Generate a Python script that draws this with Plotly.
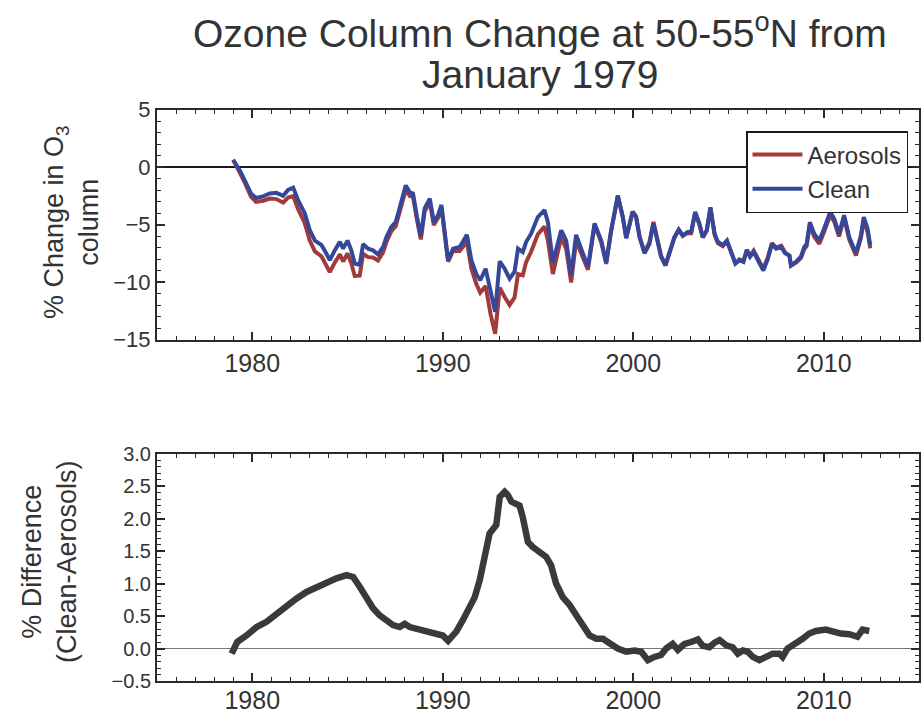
import plotly.graph_objects as go

# ---------------- data ----------------
years = [1979.0, 1979.35, 1979.6, 1979.93, 1980.2, 1980.57, 1980.92, 1981.27, 1981.62, 1981.88,
         1982.15, 1982.41, 1982.76, 1983.02, 1983.29, 1983.64, 1983.8, 1984.07, 1984.33, 1984.6,
         1984.77, 1985.0, 1985.2, 1985.38, 1985.64, 1985.82, 1986.08, 1986.34, 1986.6, 1986.87,
         1987.04, 1987.3, 1987.53, 1987.74, 1988.06, 1988.27, 1988.44, 1988.65, 1988.85, 1989.05,
         1989.32, 1989.53, 1989.75, 1989.93, 1990.1, 1990.28, 1990.54, 1990.89, 1991.27, 1991.5,
         1991.76, 1991.97, 1992.25, 1992.51, 1992.75, 1992.99, 1993.25, 1993.51, 1993.77, 1993.95,
         1994.2, 1994.38, 1994.64, 1994.99, 1995.34, 1995.52, 1995.78, 1996.22, 1996.48, 1996.74,
         1997.0, 1997.3, 1997.62, 1997.97, 1998.32, 1998.58, 1998.84, 1999.19, 1999.45, 1999.63,
         1999.97, 2000.15, 2000.33, 2000.59, 2000.85, 2001.06, 2001.29, 2001.46, 2001.69, 2001.9,
         2002.16, 2002.39, 2002.6, 2002.86, 2003.04, 2003.25, 2003.47, 2003.65, 2003.86, 2004.05,
         2004.27, 2004.44, 2004.7, 2004.92, 2005.13, 2005.36, 2005.57, 2005.78, 2005.96, 2006.13,
         2006.32, 2006.58, 2006.83, 2007.06, 2007.28, 2007.5, 2007.77, 2007.97, 2008.2, 2008.28,
         2008.54, 2008.8, 2008.98, 2009.1, 2009.27, 2009.5, 2009.77, 2010.02, 2010.34, 2010.55,
         2010.8, 2011.07, 2011.34, 2011.69, 2011.95, 2012.1, 2012.3, 2012.44]

clean = [0.6, -0.3, -1.15, -2.3, -2.7, -2.55, -2.3, -2.25, -2.5, -2.0,
         -1.8, -2.9, -4.05, -5.5, -6.4, -6.8, -7.25, -8.1, -7.25, -6.5,
         -7.1, -6.4, -7.25, -8.4, -8.5, -6.7, -7.1, -7.25, -7.6, -6.95,
         -6.1, -5.2, -4.8, -3.5, -1.6, -2.2, -2.3, -4.35, -6.0, -3.6,
         -2.75, -4.8, -4.2, -3.3, -5.8, -8.1, -7.1, -6.95, -5.9, -8.1,
         -9.3, -9.85, -8.85, -11.0, -12.6, -8.2, -8.85, -9.7, -9.1, -7.1,
         -7.4, -6.5, -5.8, -4.35, -3.75, -4.8, -8.3, -5.5, -6.4, -9.4,
         -5.9, -7.25, -8.7, -4.9, -6.4, -8.3, -5.5, -2.5, -4.35, -6.2,
         -3.9, -4.35, -6.1, -7.5, -6.7, -4.9, -6.7, -7.8, -8.55, -7.5,
         -6.1, -5.45, -5.95, -5.65, -5.65, -3.9, -4.9, -6.1, -5.5, -3.5,
         -5.8, -6.5, -6.8, -6.4, -7.25, -8.4, -8.1, -8.25, -7.25, -7.8,
         -7.4, -8.25, -9.0, -8.0, -6.7, -7.1, -6.95, -7.5, -7.7, -8.55,
         -8.25, -7.8, -6.95, -6.7, -4.8, -5.8, -6.4, -5.35, -3.9, -4.5,
         -5.8, -4.2, -6.1, -7.5, -5.95, -4.35, -5.35, -6.8]

aerosols = [0.65, -0.42, -1.33, -2.57, -3.03, -2.93, -2.74, -2.79, -3.1, -2.66,
            -2.53, -3.68, -4.9, -6.4, -7.34, -7.78, -8.25, -9.14, -8.32, -7.6,
            -8.21, -7.53, -8.37, -9.47, -9.45, -7.56, -7.84, -7.87, -8.13, -7.42,
            -6.54, -5.58, -5.15, -3.83, -1.97, -2.53, -2.6, -4.63, -6.3, -3.87,
            -3.05, -5.05, -4.42, -3.52, -5.97, -8.22, -7.3, -7.3, -6.48, -8.82,
            -10.15, -10.93, -10.35, -12.8, -14.5, -10.5, -11.3, -12.0, -11.34, -9.31,
            -9.42, -8.25, -7.37, -5.85, -5.18, -6.4, -9.3, -6.1, -7.12, -10.05,
            -6.41, -7.63, -8.94, -5.05, -6.55, -8.42, -5.57, -2.5, -4.32, -6.15,
            -3.87, -4.31, -6.05, -7.4, -6.53, -4.77, -6.58, -7.7, -8.55, -7.54,
            -6.15, -5.45, -6.0, -5.73, -5.75, -4.02, -5.0, -6.14, -5.53, -3.54,
            -5.89, -6.62, -6.89, -6.45, -7.28, -8.37, -8.04, -8.22, -7.2, -7.72,
            -7.27, -8.08, -8.85, -7.88, -6.62, -7.02, -6.85, -7.44, -7.72, -8.59,
            -8.32, -7.93, -7.12, -6.89, -5.03, -6.06, -6.68, -5.64, -4.17, -4.75,
            -6.03, -4.43, -6.32, -7.69, -6.17, -4.64, -5.63, -7.07]

diff_years = [1978.92, 1979.21, 1979.7, 1980.23, 1980.75, 1981.28, 1981.8, 1982.33, 1982.85, 1983.38,
              1983.9, 1984.42, 1984.95, 1985.3, 1985.64, 1985.99, 1986.34, 1986.69, 1987.04, 1987.39,
              1987.74, 1988.0, 1988.27, 1988.62, 1989.14, 1989.67, 1990.0, 1990.28, 1990.71, 1991.06,
              1991.41, 1991.68, 1991.94, 1992.2, 1992.46, 1992.81, 1992.99, 1993.25, 1993.42, 1993.6,
              1993.86, 1994.03, 1994.2, 1994.47, 1994.73, 1995.08, 1995.43, 1995.69, 1995.95, 1996.3,
              1996.66, 1997.01, 1997.36, 1997.71, 1998.06, 1998.41, 1998.76, 1999.19, 1999.63, 2000.07,
              2000.42, 2000.77, 2001.11, 2001.46, 2001.73, 2002.07, 2002.34, 2002.69, 2003.04, 2003.39,
              2003.65, 2004.0, 2004.27, 2004.53, 2004.88, 2005.22, 2005.49, 2005.75, 2006.01, 2006.28,
              2006.62, 2006.97, 2007.32, 2007.67, 2007.84, 2008.1, 2008.54, 2008.89, 2009.24, 2009.59,
              2010.11, 2010.46, 2010.9, 2011.34, 2011.77, 2012.04, 2012.39]

difference = [-0.08, 0.1, 0.2, 0.33, 0.41, 0.54, 0.64, 0.77, 0.87, 0.95,
              1.02, 1.08, 1.13, 1.1, 0.95, 0.77, 0.62, 0.51, 0.44, 0.36,
              0.33, 0.38, 0.33, 0.3, 0.28, 0.22, 0.2, 0.12, 0.26, 0.44,
              0.67, 0.79, 1.05, 1.46, 1.77, 1.9, 2.33, 2.41, 2.36, 2.26,
              2.23, 2.2, 2.02, 1.64, 1.56, 1.49, 1.41, 1.28, 1.0, 0.79,
              0.67, 0.51, 0.36, 0.2, 0.15, 0.15, 0.08, 0.0, -0.05, -0.03,
              -0.05, -0.18, -0.13, -0.1, 0.0, 0.07, -0.02, 0.07, 0.1, 0.14,
              0.04, 0.02, 0.09, 0.13, 0.05, 0.02, -0.08, -0.03, -0.05, -0.13,
              -0.18, -0.13, -0.08, -0.08, -0.13, 0.0, 0.07, 0.15, 0.23, 0.27,
              0.29, 0.26, 0.23, 0.22, 0.18, 0.29, 0.27]

x_tickvals = [1980, 1990, 2000, 2010]
top_y_tickvals = [5, 0, -5, -10, -15]
bot_y_tickvals = [3.0, 2.5, 2.0, 1.5, 1.0, 0.5, 0.0, -0.5]

W, H = 921, 715
FONT = "Liberation Sans, Arial, Helvetica, sans-serif"
TXT = "#333333"
AX = "#2a2a2a"

def px(x):
    return x / W

def py(y):
    return 1 - y / H

fig = go.Figure()
fig.add_trace(go.Scatter(x=years, y=aerosols, name="Aerosols", mode="lines",
                         line=dict(color="#a33a3a", width=4), xaxis="x", yaxis="y"))
fig.add_trace(go.Scatter(x=years, y=clean, name="Clean", mode="lines",
                         line=dict(color="#34479a", width=4), xaxis="x", yaxis="y"))
fig.add_trace(go.Scatter(x=diff_years, y=difference, name="Difference", mode="lines",
                         line=dict(color="#3a3a3a", width=6.5), showlegend=False,
                         xaxis="x2", yaxis="y2"))

common_x = dict(range=[1975, 2015], tickvals=x_tickvals, ticks="inside", ticklen=8,
                tickwidth=1.5, tickcolor=AX, showline=True, linecolor=AX, linewidth=2,
                mirror="allticks", showgrid=False, zeroline=False, automargin=False,
                minor=dict(dtick=1, ticks="inside", ticklen=4, tickcolor=AX, tickwidth=1),
                tickfont=dict(family=FONT, size=25, color=TXT))

fig.update_layout(
    width=W, height=H,
    margin=dict(l=0, r=0, t=0, b=0, autoexpand=False),
    paper_bgcolor="white", plot_bgcolor="white",
    showlegend=True,
    xaxis=dict(domain=[px(157), px(919)], anchor="y", **common_x),
    yaxis=dict(domain=[py(339.5), py(109.5)], anchor="x", range=[-15, 5],
               tickvals=top_y_tickvals, ticks="inside", ticklen=8, tickwidth=1.5,
               tickcolor=AX, showline=True, linecolor=AX, linewidth=2, mirror="allticks",
               showgrid=False, zeroline=True, zerolinecolor="#1a1a1a", zerolinewidth=2,
               automargin=False,
               minor=dict(dtick=1, ticks="inside", ticklen=4, tickcolor=AX, tickwidth=1),
               tickfont=dict(family=FONT, size=22, color=TXT)),
    xaxis2=dict(domain=[px(157), px(919)], anchor="y2", ticklabelstandoff=-4, **common_x),
    yaxis2=dict(domain=[py(681), py(453.5)], anchor="x2", range=[-0.5, 3.0],
                tickvals=bot_y_tickvals, tickformat=".1f", ticks="inside", ticklen=8,
                tickwidth=1.5, tickcolor=AX, showline=True, linecolor=AX, linewidth=2,
                mirror="allticks", showgrid=False, zeroline=True, zerolinecolor="#777777",
                zerolinewidth=1.2, automargin=False,
                minor=dict(dtick=0.1, ticks="inside", ticklen=4, tickcolor=AX, tickwidth=1),
                tickfont=dict(family=FONT, size=20, color=TXT)),
    legend=dict(x=px(908), y=py(131), xanchor="right", yanchor="top",
                bgcolor="white", bordercolor="#1a1a1a", borderwidth=1.5,
                font=dict(family=FONT, size=24, color=TXT),
                tracegroupgap=0, itemwidth=50),
    annotations=[
        dict(text="Ozone Column Change at 50-55<sup>o</sup>N from", x=px(540), y=py(31),
             xref="paper", yref="paper", showarrow=False, xanchor="center", yanchor="middle",
             font=dict(family=FONT, size=39, color=TXT)),
        dict(text="January 1979", x=px(540), y=py(74),
             xref="paper", yref="paper", showarrow=False, xanchor="center", yanchor="middle",
             font=dict(family=FONT, size=39, color=TXT)),
        dict(text="% Change in O<sub>3</sub><br>column", x=px(72), y=py(222),
             xref="paper", yref="paper", showarrow=False, textangle=-90,
             xanchor="center", yanchor="middle",
             font=dict(family=FONT, size=27, color=TXT)),
        dict(text="% Difference<br>(Clean-Aerosols)", x=px(49), y=py(562),
             xref="paper", yref="paper", showarrow=False, textangle=-90,
             xanchor="center", yanchor="middle",
             font=dict(family=FONT, size=27, color=TXT)),
    ],
)

fig.write_html("out.html")
